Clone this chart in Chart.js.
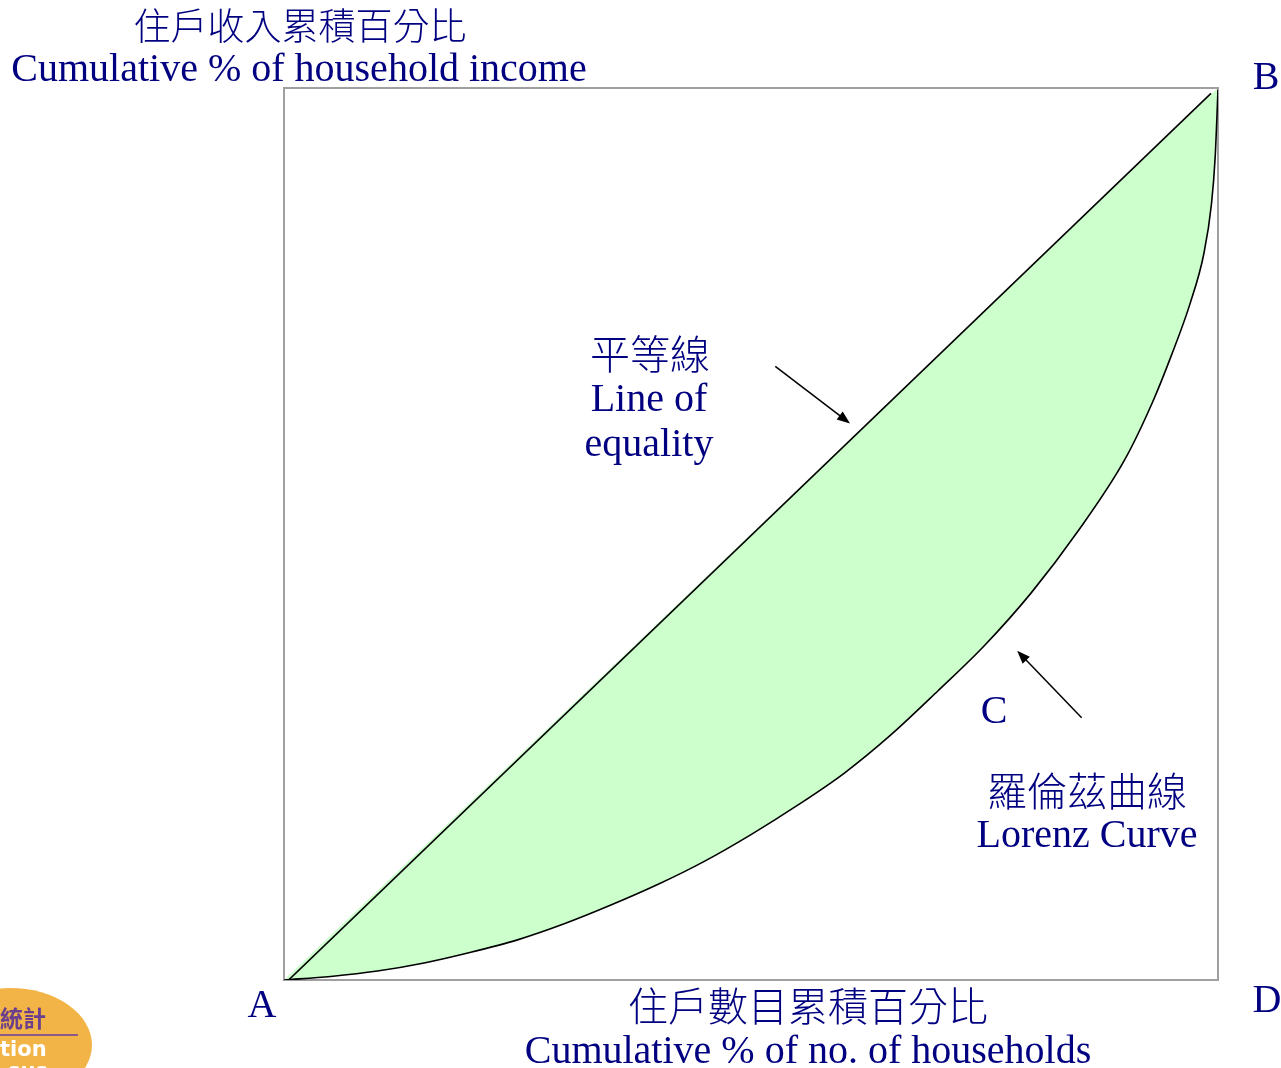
<!DOCTYPE html>
<html>
<head>
<meta charset="utf-8">
<script src="https://cdn.jsdelivr.net/npm/chart.js@4/dist/chart.umd.min.js"></script>
<style>
  body { margin: 0; background: #fff; }
  #wrap { position: relative; width: 1281px; height: 1068px; overflow: hidden; }
  .lbl { position: absolute; color: #000080; font-family: "Liberation Serif", "Times New Roman", serif; font-size: 40px; white-space: nowrap; transform: translate(-50%, -50%); line-height: 1; }
  .cjk { font-family: "Noto Sans CJK TC", "Noto Sans CJK SC", sans-serif; font-weight: 300; font-size: 40px; }
  #logo { position: absolute; left: -72px; top: 988px; width: 164px; height: 114px; border-radius: 50%; background: #f2b447; overflow: hidden; }
  #logo .t1 { position: absolute; left: 72px; top: 12px; font: bold 23px "Noto Sans CJK TC", sans-serif; color: #6b3f8c; }
  #logo .rule { position: absolute; left: 60px; top: 46px; width: 90px; height: 2px; background: #8a5a8a; }
  #logo .t2 { position: absolute; left: 72px; top: 49px; font: bold 21px "DejaVu Sans", sans-serif; color: #fff; }
  #logo .t3 { position: absolute; left: 80px; top: 71px; font: bold 21px "DejaVu Sans", sans-serif; color: #fff; }
</style>
</head>
<body>
<div id="wrap">
  <canvas id="chart" width="1281" height="1068"></canvas>

  <div class="lbl cjk" style="left:300px; top:24px; font-size:37px;">住戶收入累積百分比</div>
  <div class="lbl" style="left:299px; top:68px;">Cumulative % of household income</div>

  <div class="lbl cjk" style="left:650px; top:352px;">平等線</div>
  <div class="lbl" style="left:649px; top:398px;">Line of</div>
  <div class="lbl" style="left:649px; top:443px;">equality</div>

  <div class="lbl" style="left:994px; top:710px;">C</div>
  <div class="lbl cjk" style="left:1087px; top:789px;">羅倫茲曲線</div>
  <div class="lbl" style="left:1087px; top:834px;">Lorenz Curve</div>

  <div class="lbl" style="left:262px; top:1004px;">A</div>
  <div class="lbl" style="left:1266px; top:76px;">B</div>
  <div class="lbl" style="left:1267px; top:999px;">D</div>

  <div class="lbl cjk" style="left:808px; top:1004px;">住戶數目累積百分比</div>
  <div class="lbl" style="left:808px; top:1050px;">Cumulative % of no. of households</div>

  <div id="logo">
    <div class="t1">統計</div>
    <div class="rule"></div>
    <div class="t2">tion</div>
    <div class="t3">sus</div>
  </div>
</div>

<script>
// cumulative % of households (x) and of income (y)
const lorenzX = [0, 5, 10, 15, 20, 25, 30, 35, 40, 45, 50, 55, 60, 65, 70, 75, 80, 85, 90, 93, 95, 97, 98.5, 99.3, 99.7, 100];
const lorenzY = [0, 0.4, 1.0, 1.9, 3.1, 4.5, 6.3, 8.4, 10.7, 13.3, 16.3, 19.6, 23.2, 27.5, 32.4, 37.5, 43.4, 50.3, 58.3, 64.8, 70.0, 75.8, 81.5, 87.0, 92.3, 99.8];

const equalX = [0, 100];
const equalY = [0, 100];
// drawn line of equality stops just short of the corners
const equalLineX = [0.3, 99.25];
const equalLineY = [-0.2, 99.4];

// annotation arrows, in data units: [fromX, fromY, toX, toY]
const arrows = [
  [52.6, 68.8, 60.6, 62.4],
  [85.4, 29.4, 78.5, 36.9]
];

const pts = (xs, ys) => xs.map((x, i) => ({ x: x, y: ys[i] }));

const frame = {
  id: 'frame',
  beforeDatasetsDraw(chart) {
    const a = chart.chartArea;
    const ctx = chart.ctx;
    ctx.save();
    ctx.strokeStyle = '#a0a0a0';
    ctx.lineWidth = 2;
    ctx.strokeRect(a.left, a.top, a.right - a.left, a.bottom - a.top);
    ctx.restore();
  },
  afterDraw(chart) {
    const ctx = chart.ctx;
    const sx = chart.scales.x, sy = chart.scales.y;
    ctx.save();
    ctx.strokeStyle = '#000';
    ctx.fillStyle = '#000';
    ctx.lineWidth = 1.5;
    arrows.forEach(a => {
      const x1 = sx.getPixelForValue(a[0]), y1 = sy.getPixelForValue(a[1]);
      const x2 = sx.getPixelForValue(a[2]), y2 = sy.getPixelForValue(a[3]);
      const ang = Math.atan2(y2 - y1, x2 - x1);
      const len = 13, w = 5;
      ctx.beginPath();
      ctx.moveTo(x1, y1);
      ctx.lineTo(x2 - Math.cos(ang) * len * 0.8, y2 - Math.sin(ang) * len * 0.8);
      ctx.stroke();
      ctx.beginPath();
      ctx.moveTo(x2, y2);
      ctx.lineTo(x2 - Math.cos(ang) * len - Math.sin(ang) * w, y2 - Math.sin(ang) * len + Math.cos(ang) * w);
      ctx.lineTo(x2 - Math.cos(ang) * len + Math.sin(ang) * w, y2 - Math.sin(ang) * len - Math.cos(ang) * w);
      ctx.closePath();
      ctx.fill();
    });
    ctx.restore();
  }
};

new Chart(document.getElementById('chart'), {
  type: 'line',
  data: {
    datasets: [
      {
        label: 'equality area',
        data: pts(equalX, equalY),
        borderWidth: 0,
        borderColor: 'rgba(0,0,0,0)',
        backgroundColor: '#ccffcc',
        pointRadius: 0,
        fill: 1
      },
      {
        label: 'Lorenz Curve',
        data: pts(lorenzX, lorenzY),
        borderColor: '#000',
        borderWidth: 1.6,
        pointRadius: 0,
        fill: false,
        cubicInterpolationMode: 'monotone'
      },
      {
        label: 'Line of equality',
        data: pts(equalLineX, equalLineY),
        borderColor: '#000',
        borderWidth: 1.6,
        pointRadius: 0,
        fill: false
      }
    ]
  },
  options: {
    responsive: false,
    animation: false,
    layout: { padding: { left: 284, right: 63, top: 88, bottom: 88 } },
    plugins: {
      legend: { display: false },
      tooltip: { enabled: false },
      filler: { drawTime: 'beforeDatasetsDraw' }
    },
    scales: {
      x: { type: 'linear', min: 0, max: 100, display: false },
      y: { type: 'linear', min: 0, max: 100, display: false }
    }
  },
  plugins: [frame]
});
</script>
</body>
</html>
